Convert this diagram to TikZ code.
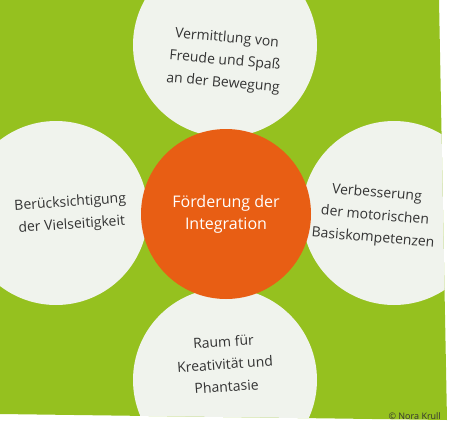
\documentclass[tikz,border=0pt]{standalone}
\usepackage{fontspec}
\setmainfont{Open Sans}
\usetikzlibrary{positioning}
\definecolor{leafgreen}{HTML}{95C11F}
\definecolor{petalgray}{HTML}{F0F3ED}
\definecolor{hubred}{HTML}{E85E14}
\definecolor{inkgray}{HTML}{333333}
\tikzset{
    petal/.style={
        circle,
        fill=petalgray,
        minimum size=184pt,
        inner sep=0pt
    },
    hub/.style={
        circle,
        fill=hubred,
        minimum size=170pt,
        inner sep=0pt,
        text=white,
        align=center,
        font=\fontsize{16}{22}\selectfont
    },
    petaltext/.style={
        align=center,
        text=inkgray,
        font=\fontsize{14}{22.5}\selectfont
    }
}

\begin{document}
\begin{tikzpicture}[x=1pt,y=-1pt]
    \useasboundingbox (0,0) rectangle (450,426);
    \fill[white] (0,0) rectangle (450,426);

    % green sheet, petals cut at its edges
    \begin{scope}
        \clip (0,0) -- (439,0) -- (447,420) -- (0,414) -- cycle;
        \fill[leafgreen] (0,0) rectangle (450,426);
        \node[petal] (top) at (225,45) {};
        \node[petal] (left) at (56,213) {};
        \node[petal] (right) at (394,213) {};
        \node[petal] (bottom) at (225,380) {};
    \end{scope}

    \node[hub] (hub) at (226,214) {Förderung der\\Integration};

    \node[petaltext, rotate=-5] (toptext) at (225,61) {Vermittlung von\\Freude und Spaß\\an der Bewegung};
    \node[petaltext, rotate=4] (lefttext) at (71,214) {Berücksichtigung\\der Vielseitigkeit};
    \node[petaltext, rotate=-5] (righttext) at (375,216) {Verbesserung\\der motorischen\\Basiskompetenzen};
    \node[petaltext, rotate=4] (bottomtext) at (225,364) {Raum für\\Kreativität und\\Phantasie};

    \node[anchor=east, font=\fontsize{9}{10}\selectfont, text=black!80, inner sep=0pt] (credit) at (441,416) {© Nora Krull};
\end{tikzpicture}
\end{document}
